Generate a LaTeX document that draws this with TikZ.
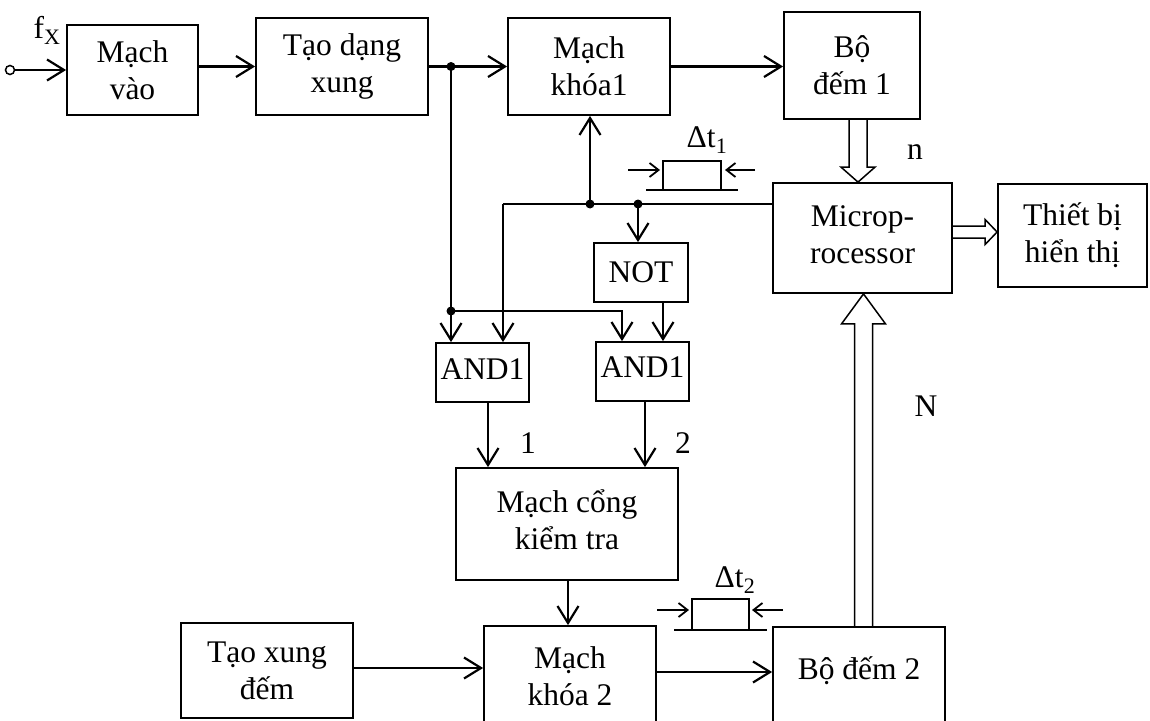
\documentclass[tikz,border=0pt]{standalone}
\usepackage{fontspec}
\setmainfont{Liberation Serif}
\usetikzlibrary{arrows.meta,calc}
\newcommand\dfont{\fontsize{31.5}{37}\selectfont}
\tikzset{
  box/.style={draw, line width=1.8pt, inner sep=0pt, align=center, font=\dfont},
  wire/.style={line width=2.2pt},
  dbl/.style={line width=1.5pt, line join=miter},
  dot/.style={circle, fill, inner sep=0pt, minimum size=9pt},
  txt/.style={font=\dfont, inner sep=0pt},
  pulse/.style={line width=1.6pt},
  parr/.style={line width=1.8pt, -{Straight Barb[length=9pt,width=14pt]}},
}
\begin{document}
\begin{tikzpicture}[x=1pt,y=-1pt,>={Straight Barb[length=17pt,width=21pt]}]
\useasboundingbox (0,0) rectangle (1150,720);
% blocks
\node[box,minimum width=131pt,minimum height=90pt] (mv) at (132.5,70) {Mạch\\vào};
\node[box,minimum width=172pt,minimum height=97pt] (tdx) at (342,66.5) {Tạo dạng\\xung};
\node[box,minimum width=162pt,minimum height=97pt] (mk1) at (589,66.5) {Mạch\\khóa1};
\node[box,minimum width=136pt,minimum height=107pt] (bd1) at (852,65.5) {Bộ\\đếm 1};
\node[box,minimum width=179pt,minimum height=110pt] (mp) at (862.5,238) {\raisebox{5pt}{\begin{tabular}{@{}c@{}}Microp-\\rocessor\end{tabular}}};
\node[box,minimum width=149pt,minimum height=103pt] (tb) at (1072.5,235.5) {Thiết bị\\hiển thị};
\node[box,minimum width=94pt,minimum height=59pt] (not) at (641,272.5) {NOT};
\node[box,minimum width=93pt,minimum height=59pt] (and1) at (482.5,372.5) {\raisebox{7.5pt}{AND1}};
\node[box,minimum width=93pt,minimum height=59pt] (and2) at (642.5,371.5) {\raisebox{8.5pt}{AND1}};
\node[box,minimum width=222pt,minimum height=112pt] (mck) at (567,524) {\raisebox{5.5pt}{\begin{tabular}{@{}c@{}}Mạch cổng\\kiểm tra\end{tabular}}};
\node[box,minimum width=172pt,minimum height=95pt] (txd) at (267,670.5) {Tạo xung\\đếm};
\node[box,minimum width=172pt,minimum height=101pt] (mk2) at (570,676.5) {Mạch\\khóa 2};
\node[box,minimum width=172pt,minimum height=101pt] (bd2) at (859,677.5) {\raisebox{19.5pt}{Bộ đếm 2}};
% input terminal
\node[circle,draw,line width=1.5pt,minimum size=9pt,inner sep=0pt] (inp) at (10,70) {};
\node[txt] (fx) at (47,30) {f\textsubscript{X}};
% helper coordinates
\coordinate (j1) at (451,66.5);
\coordinate (j2) at (451,311);
\coordinate (k2) at (622,311);
\coordinate (c0) at (503,204);
\coordinate (j3) at (590,204);
\coordinate (j4) at (638,204);
\coordinate (xn) at (663,0);
\coordinate (xa1) at (488,0);
\coordinate (xa2) at (645,0);
\coordinate (xm) at (568,0);
\coordinate (ya) at (0,668);
\coordinate (yb) at (0,672);
\coordinate (xA) at (858,0);
\coordinate (yA) at (0,232);
\coordinate (xB) at (863.5,0);
% connectors
\draw[wire,->] (inp) -- (mv.west |- inp);
\draw[wire,->] (mv.east |- tdx.west) -- (tdx.west);
\draw[wire] (tdx.east) -- (j1);
\draw[wire,->] (j1) -- (mk1.west);
\draw[wire,->] (mk1.east) -- (bd1.west |- mk1.east);
\draw[wire] (j1) -- (j2);
\draw[wire,->] (j2) -- (and1.north -| j2);
\draw[wire,->] (j2) -- (k2) -- (and2.north -| k2);
\draw[wire] (mp.west |- c0) -- (c0);
\draw[wire,->] (c0) -- (and1.north -| c0);
\draw[wire,->] (j3) -- (mk1.south -| j3);
\draw[wire,->] (j4) -- (not.north -| j4);
\draw[wire,->] (not.south -| xn) -- (and2.north -| xn);
\draw[wire,->] (and1.south -| xa1) -- (mck.north -| xa1);
\draw[wire,->] (and2.south -| xa2) -- (mck.north -| xa2);
\draw[wire,->] (mck.south -| xm) -- (mk2.north -| xm);
\draw[wire,->] (txd.east |- ya) -- (mk2.west |- ya);
\draw[wire,->] (mk2.east |- yb) -- (bd2.west |- yb);
% junction dots
\node[dot] (d1) at (j1) {};
\node[dot] (d2) at (j2) {};
\node[dot] (d3) at (j3) {};
\node[dot] (d4) at (j4) {};
% hollow bus arrows
\draw[dbl] let \p1=(bd1.south -| xA), \p2=(mp.north -| xA) in
  (\x1-9pt,\y1) -- (\x1-9pt,\y2+15pt) -- (\x1-17pt,\y2+15pt) -- (\x2,\y2)
  -- (\x1+17pt,\y2+15pt) -- (\x1+9pt,\y2+15pt) -- (\x1+9pt,\y1);
\draw[dbl] let \p1=(mp.east |- yA), \p2=(tb.west |- yA) in
  (\x1,\y1+6pt) -- (\x2-12pt,\y1+6pt) -- (\x2-12pt,\y1+12.5pt) -- (\x2,\y2)
  -- (\x2-12pt,\y1-12.5pt) -- (\x2-12pt,\y1-6pt) -- (\x1,\y1-6pt);
\draw[dbl] let \p1=(bd2.north -| xB), \p2=(mp.south -| xB) in
  (\x1-9pt,\y1) -- (\x1-9pt,\y2-30pt) -- (\x1-22pt,\y2-30pt) -- (\x2,\y2)
  -- (\x1+22pt,\y2-30pt) -- (\x1+9pt,\y2-30pt) -- (\x1+9pt,\y1);
% labels
\node[txt] (ln) at (915,152) {n};
\node[txt] (lN) at (926,406) {N};
\node[txt] (l1) at (528,443) {1};
\node[txt] (l2) at (683,443) {2};
% pulse dt1
\node[txt] (dt1) at (707,140) {Δt\textsubscript{1}};
\draw[pulse] (646,190) -- (738,190);
\draw[pulse] (663,190) -- (663,161) -- (721,161) -- (721,190);
\draw[parr] (628,170) -- (660,170);
\draw[parr] (755,170) -- (725,170);
% pulse dt2
\node[txt] (dt2) at (735,580) {Δt\textsubscript{2}};
\draw[pulse] (674,630) -- (767,630);
\draw[pulse] (692,630) -- (692,599) -- (749,599) -- (749,630);
\draw[parr] (657,610) -- (689,610);
\draw[parr] (783,610) -- (752,610);
\end{tikzpicture}
\end{document}
